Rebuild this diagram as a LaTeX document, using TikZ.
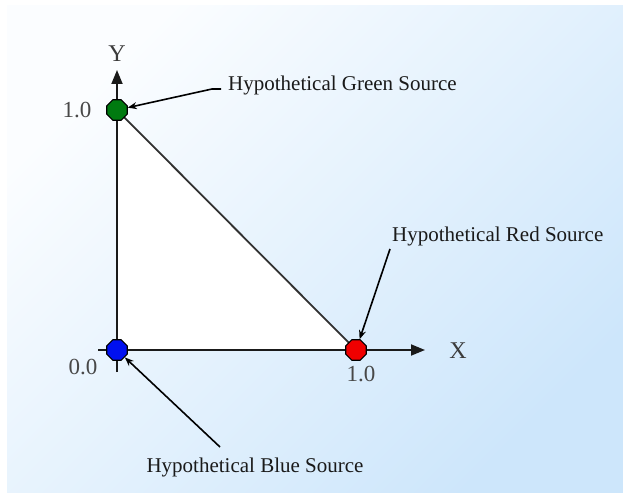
\documentclass[tikz,border=0pt]{standalone}
\usepackage{fontspec}
\setmainfont{Liberation Serif}
\usetikzlibrary{arrows.meta,shapes.geometric}
\definecolor{bgA}{HTML}{FBFDFF}
\definecolor{bgB}{HTML}{CDE6FB}
\definecolor{srcgreen}{HTML}{007A10}
\definecolor{srcblue}{HTML}{0010F0}
\definecolor{srcred}{HTML}{F00000}
\definecolor{ink}{HTML}{1A1A1A}
\tikzset{
  axisline/.style={draw=ink, line width=1.8pt, -{Triangle[length=14pt,width=11pt]}},
  edgeline/.style={draw=ink!90, line width=1.8pt},
  srcdot/.style={regular polygon, regular polygon sides=8, minimum size=22pt, inner sep=0pt, draw=black, line width=1.2pt},
  pointer/.style={draw=black, line width=1.6pt, -{Stealth[length=9pt,width=7pt]}},
  annot/.style={inner sep=0pt, font=\fontsize{21}{24}\selectfont, text=ink},
  axlabel/.style={inner sep=0pt, font=\fontsize{24}{28}\selectfont, text=ink!85},
  numlabel/.style={inner sep=0pt, font=\fontsize{23}{27}\selectfont, text=ink!80}
}
\begin{document}
\begin{tikzpicture}[x=1pt,y=-1pt]
\useasboundingbox (0,0) rectangle (623,492);
\fill[white] (-2,-2) rectangle (626,495);
\fill[bgB] (7,6) rectangle (626,495);
\shade[top color=bgA, bottom color=bgB, shading angle=45] (7,6) rectangle (626,495);
% corner points
\coordinate (O) at (117,350);
\coordinate (G) at (117,110);
\coordinate (R) at (356,350);
\coordinate (xstart) at (98,350);
\coordinate (xend) at (425,350);
\coordinate (ystart) at (117,372);
\coordinate (yend) at (117,70);
% white triangle
\fill[white] (G) -- (R) -- (O) -- cycle;
% axes and hypotenuse
\draw[axisline] (xstart) -- (xend);
\draw[axisline] (ystart) -- (yend);
\draw[edgeline] (G) -- (R);
% sources
\node[srcdot, fill=srcgreen] (g) at (G) {};
\node[srcdot, fill=srcblue] (b) at (O) {};
\node[srcdot, fill=srcred] (r) at (R) {};
% axis labels
\node[axlabel] (ylab) at (117,54) {Y};
\node[axlabel] (xlab) at (458,351) {X};
\node[numlabel] (g10) at (77,110) {1.0};
\node[numlabel] (o00) at (83,367) {0.0};
\node[numlabel] (r10) at (361,374) {1.0};
% annotations
\node[annot, anchor=west] (glab) at (228,85) {Hypothetical Green Source};
\node[annot, anchor=west] (rlab) at (392,236) {Hypothetical Red Source};
\node[annot] (blab) at (255,467) {Hypothetical Blue Source};
\coordinate (gstart) at (221,89);
\coordinate (gbend) at (212,89);
\coordinate (rstart) at (390,249);
\coordinate (bstart) at (220,447);
\draw[pointer] (gstart) -- (gbend) -- (g);
\draw[pointer] (rstart) -- (r);
\draw[pointer] (bstart) -- (b);
\end{tikzpicture}
\end{document}
